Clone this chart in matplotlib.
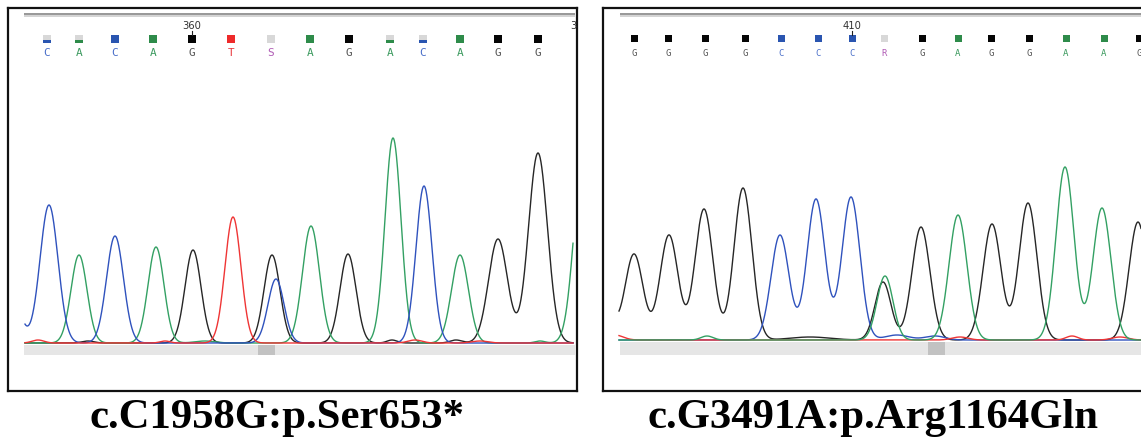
import numpy as np
import matplotlib
matplotlib.use("Agg")
import matplotlib.pyplot as plt
from matplotlib.patches import Rectangle

W, H, DPI = 1141, 438, 100

# ---------------- data ----------------
# left panel: base calls, their scan positions and call quality (coloured fraction of the square)
left_bases = list("CACAGTSAGACAGG")
left_base_pos = [47, 79, 115, 153, 192, 231, 271, 310, 349, 390, 423, 460, 498, 538]
left_qual = [0.35, 0.35, 1, 1, 1, 1, 0, 1, 1, 0.35, 0.35, 1, 1, 1]
left_ruler_labels = ["360", "370"]
left_ruler_pos = [192, 580]
left_title = "c.C1958G:p.Ser653*"

# left panel peaks per channel: scan position, height, width (sigma)
left_blue_pos = [10, 49, 115, 276, 424]
left_blue_h = [60, 138, 107, 64, 157]
left_blue_w = [9, 9, 8.5, 8, 8]
left_green_pos = [79, 156, 205, 311, 393, 460, 540, 583]
left_green_h = [88, 96, 2, 117, 205, 88, 2, 185]
left_green_w = [8, 8, 10, 8.5, 8, 8.5, 5, 9]
left_black_pos = [88, 193, 272, 348, 392, 456, 498, 538]
left_black_h = [2, 93, 88, 89, 3, 3, 104, 190]
left_black_w = [6, 8, 8, 8, 5, 6, 9.5, 9.5]
left_red_pos = [38, 165, 233, 415, 480]
left_red_h = [3, 2, 126, 3, 2]
left_red_w = [6, 5, 8, 7, 8]

# right panel
right_bases = list("GGGGCCCRGAGGAAG")
right_base_pos = [634, 668, 705, 745, 781, 818, 852, 884, 922, 958, 991, 1029, 1066, 1104, 1139]
right_qual = [1, 1, 1, 1, 1, 1, 1, 0, 1, 1, 1, 1, 1, 1, 1]
right_ruler_labels = ["410"]
right_ruler_pos = [852]
right_title = "c.G3491A:p.Arg1164Gln"

right_black_pos = [600, 634, 669, 704, 743, 810, 883, 921, 992, 1028, 1138]
right_black_h = [70, 86, 105, 131, 152, 3, 58, 113, 116, 137, 118]
right_black_w = [9, 9, 9, 9, 9, 20, 8, 9, 9, 9, 9]
right_blue_pos = [780, 816, 851, 897, 935]
right_blue_h = [105, 141, 143, 5, 4]
right_blue_w = [9, 9, 9, 12, 10]
right_green_pos = [707, 885, 958, 1065, 1102]
right_green_h = [4, 64, 125, 173, 132]
right_green_w = [6, 8, 9, 9, 9]
right_red_pos = [615, 960, 1072, 1120]
right_red_h = [5, 3, 4, 3]
right_red_w = [8, 8, 6, 8]

# ---------------- styles ----------------
TRACE = {"C": "#2f52bd", "A": "#33a063", "G": "#262626", "T": "#ef3535"}
SQUARE = {"C": "#2a55b0", "A": "#2e8b4a", "G": "#050505", "T": "#ee2a2a"}
LETTER = {"C": "#4a6fc9", "A": "#3c9a5f", "G": "#555555", "T": "#e8383d",
          "S": "#b05cb5", "R": "#b05cb5"}
QGRAY = "#d8d8d8"

fig = plt.figure(figsize=(W / DPI, H / DPI), dpi=DPI)
fig.patch.set_facecolor("white")


def rect(x0, y0, x1, y1):
    return [x0 / W, (H - y1) / H, (x1 - x0) / W, (y1 - y0) / H]


def trace(xs, pos, h, w):
    y = np.zeros_like(xs)
    for p, a, s in zip(pos, h, w):
        y += a * np.exp(-0.5 * ((xs - p) / s) ** 2)
    return y


def panel(box, base_y, trace_x, bar, dark, bases, bpos, qual, rlabels, rpos,
          channels, order, let_size, sq):
    x0, y0, x1, y1 = box
    ax = fig.add_axes(rect(x0, y0, x1, y1))
    ax.set_xlim(x0, x1)
    ax.set_ylim(y1, y0)
    ax.set_xticks([]); ax.set_yticks([])
    for s in ax.spines.values():
        s.set_linewidth(1.6)
        s.set_color("#111111")
    # top ruler line
    ax.add_patch(Rectangle((bar[0], 15.2), bar[1] - bar[0], 2.2, color="#d4d4d4", lw=0))
    ax.plot([bar[0], bar[1]], [14.5, 14.5], color="#7a7a7a", lw=1.1, solid_capstyle="butt")
    # ruler labels
    for lab, p in zip(rlabels, rpos):
        ax.text(p, 26, lab, ha="center", va="center", fontsize=7.2,
                family="DejaVu Sans", color="#333333", clip_on=True)
        ax.plot([p, p], [31, 35], color="#222222", lw=0.8, clip_on=True)
    # quality squares + letters
    for b, p, q in zip(bases, bpos, qual):
        top, side = 39 - sq / 2, sq
        col = SQUARE.get(b, QGRAY)
        if q <= 0:
            ax.add_patch(Rectangle((p - side / 2, top), side, side, color=QGRAY, lw=0))
        else:
            ax.add_patch(Rectangle((p - side / 2, top), side, side * (1 - q), color=QGRAY, lw=0))
            ax.add_patch(Rectangle((p - side / 2, top + side * (1 - q)), side, side * q, color=col, lw=0))
        ax.text(p, 53.5, b, ha="center", va="center", fontsize=let_size,
                family="DejaVu Sans Mono", color=LETTER[b])
    # bottom gray bar
    ax.add_patch(Rectangle((bar[0], base_y + 2), bar[1] - bar[0], 355 - base_y - 2,
                           color="#e6e6e6", lw=0))
    ax.add_patch(Rectangle((dark[0], base_y + 2), dark[1] - dark[0], 355 - base_y - 2,
                           color="#c2c2c2", lw=0))
    # traces
    tx = fig.add_axes(rect(x0, y0, x1, base_y + 1))
    tx.set_xlim(x0, x1)
    tx.set_ylim(-1, base_y + 1 - y0 - 1)
    tx.axis("off")
    xs = np.linspace(trace_x[0], trace_x[1], 2000)
    for ch in order:
        pos, h, w = channels[ch]
        tx.plot(xs, trace(xs, pos, h, w), color=TRACE[ch], lw=1.0)
    return ax


panel((8, 8, 577, 391), 343, (25, 573), (24, 575), (258, 275),
      left_bases, left_base_pos, left_qual, left_ruler_labels, left_ruler_pos,
      {"C": (left_blue_pos, left_blue_h, left_blue_w),
       "A": (left_green_pos, left_green_h, left_green_w),
       "G": (left_black_pos, left_black_h, left_black_w),
       "T": (left_red_pos, left_red_h, left_red_w)},
      ["G", "A", "C", "T"], 8.0, 8)

panel((603, 8, 1170, 391), 340, (619, 1141), (620, 1141), (928, 945),
      right_bases, right_base_pos, right_qual, right_ruler_labels, right_ruler_pos,
      {"C": (right_blue_pos, right_blue_h, right_blue_w),
       "A": (right_green_pos, right_green_h, right_green_w),
       "G": (right_black_pos, right_black_h, right_black_w),
       "T": (right_red_pos, right_red_h, right_red_w)},
      ["G", "C", "T", "A"], 6.5, 7)

# bottom captions
bg = fig.add_axes([0, 0, 1, 1])
bg.set_xlim(0, W); bg.set_ylim(H, 0); bg.axis("off")
bg.text(277, 428, left_title, ha="center", va="baseline", fontsize=30.8,
        family="Liberation Serif", weight="bold", color="black")
bg.text(873, 428, right_title, ha="center", va="baseline", fontsize=30.8,
        family="Liberation Serif", weight="bold", color="black")

fig.savefig("out.png", dpi=DPI, facecolor="white")
